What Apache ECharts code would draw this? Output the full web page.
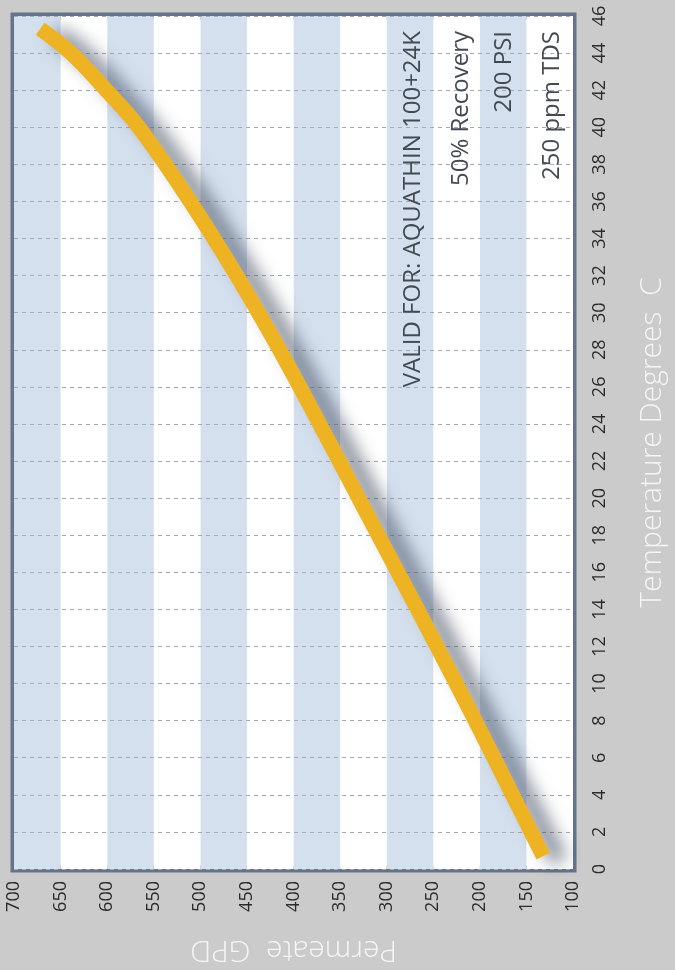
<!DOCTYPE html>
<html>
<head>
<meta charset="utf-8">
<script src="https://cdn.jsdelivr.net/npm/echarts@6/dist/echarts.min.js"></script>
<style>
  html, body { margin: 0; padding: 0; background: #cbcbcb; }
  #chart { width: 675px; height: 970px; }
</style>
</head>
<body>
<div id="chart"></div>
<script>
// Permeate output vs. feed water temperature (chart drawn turned on its side:
// temperature runs up the right edge, GPD runs right-to-left along the bottom)
const temperatureC = [0.7, 4, 8, 12, 16, 20, 24, 28, 32, 36, 40, 42, 44, 45.3];
const permeateGPD  = [132, 165, 205, 246, 288, 330, 372, 415, 461, 511, 566, 601, 639, 672];

const gpdTicks = { min: 100, max: 700, step: 50 };
const tempTicks = { min: 0, max: 46, step: 2 };

const noteLines = [
  'VALID FOR: AQUATHIN 100+24K',
  '50% Recovery',
  '200 PSI',
  '250 ppm TDS'
];
const noteX = [413, 461, 504, 552];

const axisTitleGPD = 'Permeate  GPD';
const axisTitleTemp = 'Temperature Degrees  C';

const FONT = '"Open Sans", "Noto Sans", sans-serif';

const chart = echarts.init(document.getElementById('chart'), null, { renderer: 'canvas' });

const curve = temperatureC.map((t, i) => [permeateGPD[i], t]);

chart.setOption({
  backgroundColor: '#cbcbcb',
  animation: false,
  grid: {
    left: 14, right: 97, top: 16, bottom: 99,
    show: true,
    backgroundColor: '#ffffff',
    borderColor: '#65748a',
    borderWidth: 7
  },
  xAxis: {
    type: 'value',
    inverse: true,
    position: 'bottom',
    min: gpdTicks.min, max: gpdTicks.max, interval: gpdTicks.step,
    axisLine: { show: false },
    axisTick: { show: false },
    axisLabel: {
      rotate: 90, margin: 12, fontSize: 18, color: '#2b2b2b', fontFamily: FONT
    },
    splitLine: { show: false },
    splitArea: { show: true, areaStyle: { color: ['#ffffff', '#d5e0ee'] } },
    name: axisTitleGPD,
    nameLocation: 'middle',
    nameRotate: 180,
    nameGap: 66,
    nameTextStyle: { fontSize: 30, color: '#f5f5f5', fontFamily: FONT, fontWeight: 300 }
  },
  yAxis: {
    type: 'value',
    position: 'right',
    z: 1,
    min: tempTicks.min, max: tempTicks.max, interval: tempTicks.step,
    axisLine: { show: false },
    axisTick: { show: false },
    axisLabel: {
      rotate: 90, margin: 18, fontSize: 18, color: '#2b2b2b', fontFamily: FONT
    },
    splitLine: { show: true, lineStyle: { color: '#a3abb6', type: [4, 4], width: 1 } },
    name: axisTitleTemp,
    nameLocation: 'middle',
    nameRotate: 90,
    nameGap: 64,
    nameTextStyle: { fontSize: 30, color: '#f5f5f5', fontFamily: FONT, fontWeight: 300 }
  },
  series: [{
    type: 'line',
    data: curve,
    smooth: 0.4,
    showSymbol: false,
    lineStyle: {
      color: '#edb322',
      width: 15,
      cap: 'butt',
      shadowColor: 'rgba(55,65,85,0.7)',
      shadowBlur: 18,
      shadowOffsetX: 16,
      shadowOffsetY: 5
    },
    z: 5
  }],
  graphic: noteLines.map((txt, i) => ({
    type: 'text',
    x: noteX[i],
    y: 31,
    rotation: Math.PI / 2,
    z: 10,
    style: {
      text: txt,
      fontSize: 24,
      fontFamily: FONT,
      fill: '#444a54',
      align: 'right',
      verticalAlign: 'middle'
    }
  }))
});
</script>
</body>
</html>
